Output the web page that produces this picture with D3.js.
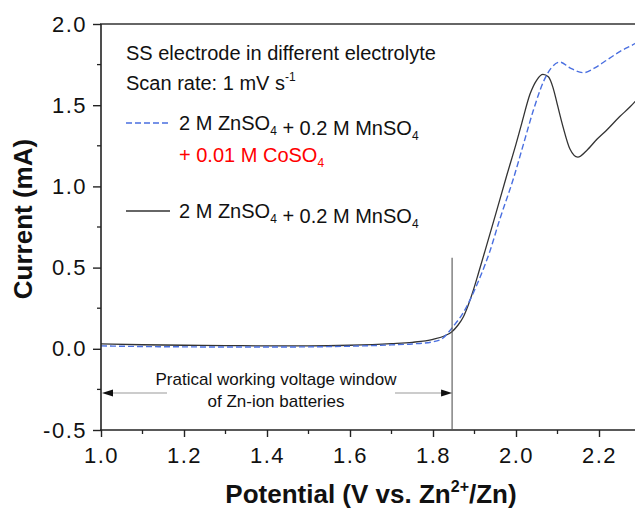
<!DOCTYPE html>
<html><head><meta charset="utf-8">
<script src="https://cdn.jsdelivr.net/npm/d3@7"></script>
<style>
html,body{margin:0;padding:0;background:#fff;}
svg{display:block;font-family:"Liberation Sans",Arial,sans-serif;}
</style></head>
<body>
<svg id="chart" width="635" height="515"></svg>
<script>
// ---- data ----
const xTicks = [1.0, 1.2, 1.4, 1.6, 1.8, 2.0, 2.2];
const yTicks = [-0.5, 0.0, 0.5, 1.0, 1.5, 2.0];
const xTickLabels = ["1.0","1.2","1.4","1.6","1.8","2.0","2.2"];
const yTickLabels = ["-0.5","0.0","0.5","1.0","1.5","2.0"];

// 2 M ZnSO4 + 0.2 M MnSO4 (black solid)
const seriesMnV = [1.00,1.10,1.20,1.30,1.40,1.50,1.60,1.70,1.75,1.80,1.83,1.845,1.86,1.873,1.885,1.897,1.91,1.925,1.95,1.978,2.00,2.014,2.034,2.05,2.065,2.078,2.089,2.10,2.113,2.13,2.149,2.17,2.195,2.22,2.25,2.275,2.30];
const seriesMnI = [0.030,0.025,0.022,0.020,0.018,0.018,0.022,0.032,0.040,0.058,0.082,0.104,0.145,0.196,0.27,0.36,0.47,0.60,0.82,1.07,1.26,1.39,1.57,1.655,1.69,1.675,1.61,1.50,1.37,1.23,1.18,1.22,1.29,1.35,1.43,1.49,1.56];

// 2 M ZnSO4 + 0.2 M MnSO4 + 0.01 M CoSO4 (blue dashed)
const seriesCoV = [1.00,1.10,1.20,1.30,1.40,1.50,1.60,1.70,1.75,1.80,1.825,1.84,1.854,1.87,1.889,1.91,1.937,1.96,1.994,2.018,2.042,2.067,2.085,2.106,2.13,2.163,2.19,2.22,2.25,2.287,2.30];
const seriesCoI = [0.018,0.014,0.012,0.011,0.011,0.012,0.016,0.024,0.030,0.043,0.068,0.11,0.155,0.21,0.30,0.42,0.60,0.79,1.05,1.26,1.47,1.65,1.73,1.765,1.73,1.70,1.73,1.78,1.83,1.88,1.90];

const windowEdge = 1.846;   // practical working voltage window limit (V)
const windowLineTop = 0.56; // top of marker line (mA)

// ---- layout ----
const svg = d3.select("#chart");
const x = d3.scaleLinear().domain([1.0, 2.3]).range([101, 640.5]);
const y = d3.scaleLinear().domain([-0.5, 2.0]).range([430, 24]);
const axisColor = "#222";

// curves
const line = d3.line().x(d => x(d[0])).y(d => y(d[1])).curve(d3.curveMonotoneX);
const mn = seriesMnV.map((v,i)=>[v, seriesMnI[i]]);
const co = seriesCoV.map((v,i)=>[v, seriesCoI[i]]);

svg.append("path").datum(mn).attr("d", line)
  .attr("fill","none").attr("stroke","#333").attr("stroke-width",1.3);
svg.append("path").datum(co).attr("d", line)
  .attr("fill","none").attr("stroke","#4a6fe0").attr("stroke-width",1.4)
  .attr("stroke-dasharray","6,3");

// top frame line
svg.append("line").attr("x1",100).attr("x2",635).attr("y1",y(2.0)).attr("y2",y(2.0))
  .attr("stroke","#333").attr("stroke-width",1.3);

// x axis
const xAxis = d3.axisBottom(x).tickValues(xTicks).tickSize(7).tickPadding(10)
  .tickFormat((d,i)=>xTickLabels[i]);
const gx = svg.append("g").attr("transform",`translate(0,${y(-0.5)})`).call(xAxis);
gx.select(".domain").attr("stroke",axisColor).attr("stroke-width",1.6).attr("d",`M100,0H635`);
gx.selectAll(".tick line").attr("stroke",axisColor).attr("stroke-width",1.4);
gx.selectAll(".tick text").attr("font-size",22).attr("fill","#111")
  .attr("font-family","'Liberation Sans',Arial,sans-serif").style("letter-spacing","1.5px");
const xMinor = d3.range(1.1, 2.31, 0.2);
gx.selectAll(".minor").data(xMinor).enter().append("line")
  .attr("x1",d=>x(d)).attr("x2",d=>x(d)).attr("y1",0).attr("y2",4)
  .attr("stroke",axisColor).attr("stroke-width",1.3);

// y axis
const yAxis = d3.axisLeft(y).tickValues(yTicks).tickSize(8).tickPadding(6)
  .tickFormat((d,i)=>yTickLabels[i]);
const gy = svg.append("g").attr("transform",`translate(${x(1.0)},0)`).call(yAxis);
gy.select(".domain").attr("stroke",axisColor).attr("stroke-width",1.6).attr("d",`M0,${y(-0.5)+1}V${y(2.0)}`);
gy.selectAll(".tick line").attr("stroke",axisColor).attr("stroke-width",1.4);
gy.selectAll(".tick text").attr("font-size",22).attr("fill","#111")
  .attr("font-family","'Liberation Sans',Arial,sans-serif").style("letter-spacing","1.5px");
const yMinor = [-0.25,0.25,0.75,1.25,1.75];
gy.selectAll(".minor").data(yMinor).enter().append("line")
  .attr("x1",-4).attr("x2",0).attr("y1",d=>y(d)).attr("y2",d=>y(d))
  .attr("stroke",axisColor).attr("stroke-width",1.3);

// axis titles
svg.append("text").attr("transform",`translate(32,${(y(-0.5)+y(2.0))/2 - 8}) rotate(-90)`)
  .attr("text-anchor","middle").attr("font-size",26).attr("font-weight","bold").attr("fill","#111")
  .text("Current (mA)");
const xt = svg.append("text").attr("x",371).attr("y",503).attr("text-anchor","middle")
  .attr("font-size",26).attr("font-weight","bold").attr("fill","#111");
xt.append("tspan").text("Potential (V vs. Zn");
xt.append("tspan").attr("font-size",16).attr("dy",-11).text("2+");
xt.append("tspan").attr("dy",11).text("/Zn)");

// legend / notes
const fs = 20;
svg.append("text").attr("x",126).attr("y",60).attr("font-size",fs).attr("fill","#111")
  .text("SS electrode in different electrolyte");
const sr = svg.append("text").attr("x",126).attr("y",90).attr("font-size",fs).attr("fill","#111");
sr.append("tspan").text("Scan rate: 1 mV s");
sr.append("tspan").attr("font-size",12).attr("dy",-9).text("-1");

function chem(g, xx, yy, parts, color){
  const t = g.append("text").attr("x",xx).attr("y",yy).attr("font-size",fs).attr("fill",color);
  parts.forEach(p=>{
    if (p.sub) { t.append("tspan").attr("font-size",12).attr("dy",5).text(p.sub);
                 t.append("tspan").attr("dy",-5).text(""); }
    else t.append("tspan").text(p.t);
  });
}
svg.append("line").attr("x1",126).attr("x2",170).attr("y1",123).attr("y2",123)
  .attr("stroke","#4a6fe0").attr("stroke-width",1.4).attr("stroke-dasharray","6,3");
chem(svg,179,130,[{t:"2 M ZnSO"},{sub:"4"},{t:" + 0.2 M MnSO"},{sub:"4"}],"#111");
chem(svg,179,162,[{t:"+ 0.01 M CoSO"},{sub:"4"}],"#ff0000");
svg.append("line").attr("x1",126).attr("x2",170).attr("y1",211).attr("y2",211)
  .attr("stroke","#333").attr("stroke-width",1.3);
chem(svg,179,218,[{t:"2 M ZnSO"},{sub:"4"},{t:" + 0.2 M MnSO"},{sub:"4"}],"#111");

// working window marker
svg.append("line").attr("x1",x(windowEdge)).attr("x2",x(windowEdge))
  .attr("y1",y(windowLineTop)).attr("y2",y(-0.5))
  .attr("stroke","#555").attr("stroke-width",1.1);
svg.append("text").attr("x",276).attr("y",385).attr("text-anchor","middle")
  .attr("font-size",17).attr("fill","#111").text("Pratical working voltage window");
svg.append("text").attr("x",276).attr("y",407).attr("text-anchor","middle")
  .attr("font-size",17).attr("fill","#111").text("of Zn-ion batteries");
const ay = 393;
svg.append("line").attr("x1",112).attr("x2",167).attr("y1",ay).attr("y2",ay)
  .attr("stroke","#999").attr("stroke-width",1);
svg.append("line").attr("x1",395).attr("x2",x(windowEdge)-10).attr("y1",ay).attr("y2",ay)
  .attr("stroke","#999").attr("stroke-width",1);
const x0 = x(1.0)+1, x1 = x(windowEdge);
svg.append("path").attr("d",`M${x0},${ay}L${x0+11},${ay-3.5}L${x0+11},${ay+3.5}Z`).attr("fill","#111");
svg.append("path").attr("d",`M${x1},${ay}L${x1-11},${ay-3.5}L${x1-11},${ay+3.5}Z`).attr("fill","#111");
</script>
</body></html>
